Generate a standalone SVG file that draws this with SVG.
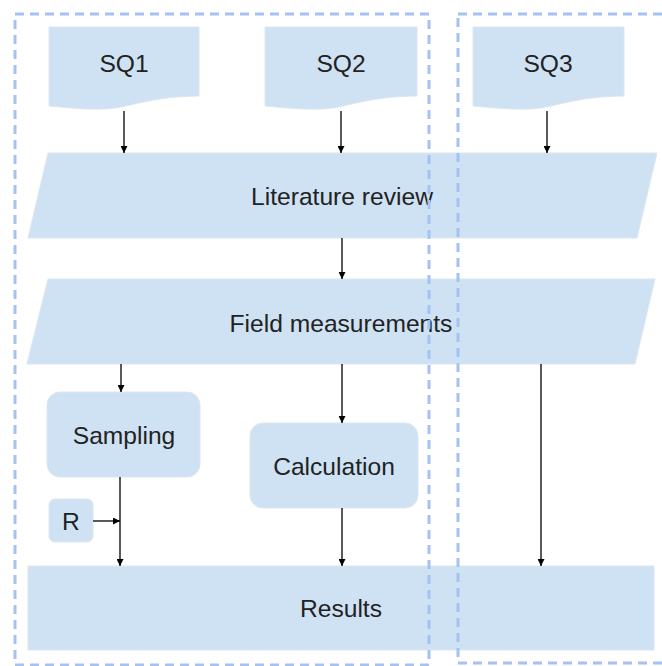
<svg xmlns="http://www.w3.org/2000/svg" width="662" height="666" viewBox="0 0 662 666">
  <style>
    .shape { fill: #cfe2f3; stroke: #dde6ef; stroke-width: 1; }
    .label { font-family: "Liberation Sans", Arial, sans-serif; font-size: 24.6px; fill: #222; text-anchor: middle; dominant-baseline: central; }
    .edge { stroke: #000; stroke-width: 1.3; fill: none; marker-end: url(#arrow); }
    .lane { fill: none; stroke: #a4c2f4; stroke-width: 3; stroke-dasharray: 9 6; }
  </style>
  <defs>
    <marker id="arrow" viewBox="0 0 10 10" refX="10" refY="5" markerWidth="8" markerHeight="7" markerUnits="userSpaceOnUse" orient="auto">
      <path d="M0,0 L10,5 L0,10 Z" fill="#000"/>
    </marker>
  </defs>

  <rect width="662" height="666" fill="#fff"/>

  <!-- question documents -->
  <g id="sq1">
    <path class="shape" d="M49,27 H199 V96 C172,96 150,100 126,106 C102,112 72,108 49,106 Z"/>
    <text class="label" x="124" y="63">SQ1</text>
  </g>
  <g id="sq2">
    <path class="shape" d="M265,27 H417 V96 C390,96 367,100 343,106 C319,112 289,108 265,106 Z"/>
    <text class="label" x="341" y="63">SQ2</text>
  </g>
  <g id="sq3">
    <path class="shape" d="M473,27 H624 V96 C597,96 575,100 551,106 C527,112 497,108 473,106 Z"/>
    <text class="label" x="548" y="63">SQ3</text>
  </g>

  <!-- process stages -->
  <g id="literature-review">
    <polygon class="shape" points="48,153 657,153 637,238 28,238"/>
    <text class="label" x="342" y="196">Literature review</text>
  </g>
  <g id="field-measurements">
    <polygon class="shape" points="48,279 655,279 635,364 27,364"/>
    <text class="label" x="341" y="323">Field measurements</text>
  </g>
  <g id="sampling">
    <rect class="shape" x="47" y="392" width="153" height="85" rx="13"/>
    <text class="label" x="124" y="435">Sampling</text>
  </g>
  <g id="calculation">
    <rect class="shape" x="250" y="423" width="168" height="85" rx="13"/>
    <text class="label" x="334" y="466">Calculation</text>
  </g>
  <g id="r">
    <rect class="shape" x="49" y="499" width="44" height="43" rx="6"/>
    <text class="label" x="71" y="521">R</text>
  </g>
  <g id="results">
    <rect class="shape" x="28" y="566" width="626" height="84"/>
    <text class="label" x="341" y="608">Results</text>
  </g>

  <!-- connectors -->
  <g id="connectors">
    <line class="edge" x1="124" y1="111" x2="124" y2="153"/>
    <line class="edge" x1="341" y1="111" x2="341" y2="153"/>
    <line class="edge" x1="547" y1="111" x2="547" y2="153"/>
    <line class="edge" x1="342" y1="238" x2="342" y2="279"/>
    <line class="edge" x1="121" y1="364" x2="121" y2="392"/>
    <line class="edge" x1="342" y1="364" x2="342" y2="423"/>
    <line class="edge" x1="541" y1="364" x2="541" y2="566"/>
    <line class="edge" x1="120" y1="477" x2="120" y2="566"/>
    <line class="edge" x1="93" y1="521" x2="120" y2="521"/>
    <line class="edge" x1="342" y1="508" x2="342" y2="566"/>
  </g>

  <!-- dashed lane outlines -->
  <g id="lanes">
    <rect class="lane" x="15" y="14" width="414" height="651"/>
    <rect class="lane" x="458" y="14" width="220" height="649"/>
  </g>
</svg>
